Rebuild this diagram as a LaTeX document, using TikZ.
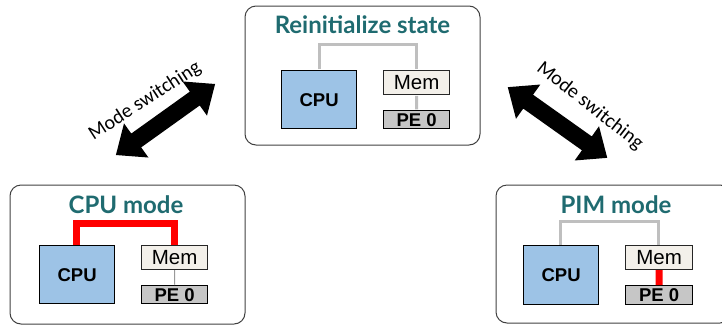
\documentclass[tikz,border=0pt]{standalone}
\usepackage{fontspec}
\setmainfont{Liberation Sans}
\newfontfamily\latofont{Lato}
\newfontfamily\carlitofont{Carlito}
\definecolor{teal1}{HTML}{1F6B70}
\definecolor{cpublue}{HTML}{9DC3E6}
\definecolor{memfill}{HTML}{F3F0EA}
\definecolor{pefill}{HTML}{C6C6C6}
\definecolor{linkgray}{HTML}{BFBFBF}
\definecolor{boxborder}{HTML}{404040}
\tikzset{
  panel/.style={draw=boxborder, line width=1pt, rounded corners=11pt},
  paneltitle/.style={anchor=base, text=teal1, font=\latofont\bfseries\fontsize{24}{24}\selectfont, inner sep=0pt},
  cpubox/.style={draw=black, line width=1.3pt, fill=cpublue, anchor=north west, inner sep=0pt, minimum width=75pt, minimum height=58pt, font=\bfseries\fontsize{18.5}{18.5}\selectfont},
  membox/.style={draw=black!85, line width=1.2pt, fill=memfill, anchor=north west, inner sep=0pt, minimum width=66pt, minimum height=24pt, font=\fontsize{20.5}{20.5}\selectfont},
  pebox/.style={draw=black, line width=1.3pt, fill=pefill, anchor=north west, inner sep=0pt, minimum width=66pt, minimum height=18pt, font=\bfseries\fontsize{18.5}{18.5}\selectfont},
  graylink/.style={draw=linkgray, line width=3pt},
  thinlink/.style={draw=black!40, line width=0.8pt},
  redlink/.style={draw=red, line width=7pt, line join=miter},
  switchlabel/.style={font=\carlitofont\fontsize{20}{20}\selectfont, inner sep=0pt},
  fatarrow/.style={fill=black}
}
\begin{document}
\begin{tikzpicture}[x=1pt,y=-1pt]
\useasboundingbox (0,0) rectangle (722,325);
\clip (0,0) rectangle (722,325);

% ---------- top panel: Reinitialize state ----------
\draw[panel] (245,6) rectangle (480,145);
\node[paneltitle] (ttitle) at (362.5,33) {Reinitialize state};
\node[cpubox] (tcpu) at (281,70) {CPU};
\node[membox] (tmem) at (383,70) {Mem};
\node[pebox] (tpe) at (383,110) {PE 0};
\draw[graylink] ([yshift=0.7pt]tcpu.north) -- ++(0,-25) -| ([yshift=0.7pt]tmem.north);
\draw[graylink] ([yshift=-0.7pt]tmem.south) -- ([yshift=0.7pt]tpe.north);

% ---------- CPU mode ----------
\draw[panel] (10,185) rectangle (245,324);
\node[paneltitle] (ctitle) at (126,213) {CPU mode};
\draw[redlink] (76.5,245) -- (76.5,223) -| (174,245);
\node[cpubox] (ccpu) at (39,245) {CPU};
\node[membox] (cmem) at (141,245) {Mem};
\node[pebox] (cpe) at (141,285) {PE 0};
\draw[thinlink] (cmem.south) -- (cpe.north);

% ---------- PIM mode ----------
\draw[panel] (496,185) rectangle (731,323);
\node[paneltitle] (ptitle) at (616,213) {PIM mode};
\draw[graylink] (560.5,245) -- (560.5,221) -| (658.5,245);
\node[cpubox, minimum height=59pt] (pcpu) at (523,245) {CPU};
\node[membox, minimum width=67pt] (pmem) at (625,245) {Mem};
\node[pebox, minimum width=67pt, minimum height=19pt] (ppe) at (625,285) {PE 0};
\draw[redlink] (pmem.south) -- (ppe.north);

% ---------- mode switching arrows ----------
\begin{scope}[shift={(165.5,119.5)}, rotate=35.6]
  \fill[fatarrow] (-61,0) -- (-36,21) -- (-36,8.5) -- (36,8.5) -- (36,21) -- (61,0)
    -- (36,-21) -- (36,-8.5) -- (-36,-8.5) -- (-36,-21) -- cycle;
\end{scope}
\node[switchlabel, rotate=33] (lsw) at (145,101) {Mode switching};

\begin{scope}[shift={(557.5,122.5)}, rotate=-35.4]
  \fill[fatarrow] (-61,0) -- (-36,21) -- (-36,8.5) -- (36,8.5) -- (36,21) -- (61,0)
    -- (36,-21) -- (36,-8.5) -- (-36,-8.5) -- (-36,-21) -- cycle;
\end{scope}
\node[switchlabel, rotate=-38] (rsw) at (590,106) {Mode switching};
\end{tikzpicture}
\end{document}
